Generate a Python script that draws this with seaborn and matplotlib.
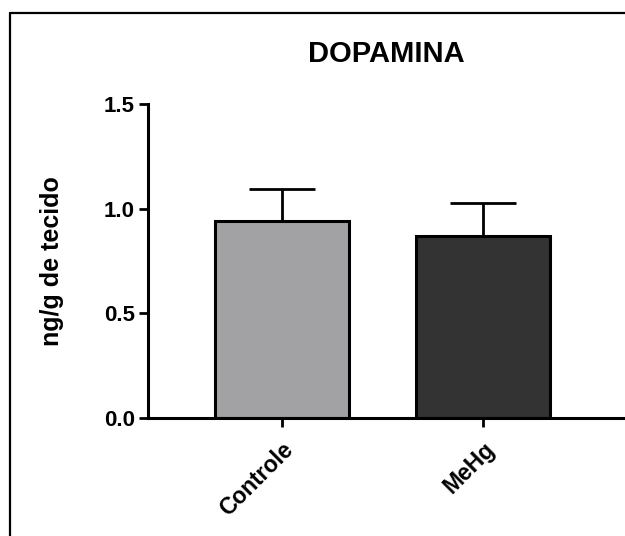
import matplotlib
matplotlib.use("Agg")
import matplotlib.pyplot as plt
import seaborn as sns
import pandas as pd
from matplotlib.lines import Line2D

groups = ["Controle", "MeHg"]
means = [0.943, 0.871]
sems = [0.150, 0.156]
colors = ["#a2a1a6", "#333333"]
yticks = [0.0, 0.5, 1.0, 1.5]
yticklabels = ["0.0", "0.5", "1.0", "1.5"]

sns.set_style("ticks")
plt.rcParams["font.family"] = ["Liberation Sans", "DejaVu Sans"]
plt.rcParams["font.weight"] = "bold"
plt.rcParams["text.color"] = "black"
plt.rcParams["axes.labelcolor"] = "black"

df = pd.DataFrame({"grupo": groups, "valor": means})

W, H = 625, 536
fig = plt.figure(figsize=(W / 100, H / 100), dpi=100)
ax = fig.add_axes([148 / W, (H - 418) / H, (W - 148) / W, (418 - 104) / H])

sns.barplot(data=df, x="grupo", y="valor", hue="grupo", palette=colors,
            order=groups, hue_order=groups, errorbar=None, width=0.67,
            edgecolor="black", linewidth=2.2, legend=False, ax=ax, zorder=2)

ax.errorbar(x=list(range(len(groups))), y=means,
            yerr=[[0] * len(groups), sems], fmt="none", ecolor="black",
            elinewidth=2.0, capsize=24, capthick=2.0, zorder=1)

ax.set_ylim(0, 1.5)
ax.set_xlim(-0.667, 1.706)
ax.set_yticks(yticks)
ax.set_yticklabels(yticklabels, fontsize=16, fontweight="bold", color="black")
ax.set_xticks(range(len(groups)))
ax.set_xticklabels(groups, rotation=45, ha="right", rotation_mode="anchor",
                   fontsize=16.5, fontweight="bold", color="black")
ax.set_xlabel("")
ax.set_ylabel("ng/g de tecido", fontsize=18, fontweight="bold", labelpad=29,
              color="black")
ax.set_title("DOPAMINA", fontsize=21, fontweight="bold", pad=30, color="black")

for s in ["top", "right"]:
    ax.spines[s].set_visible(False)
for s in ["left", "bottom"]:
    ax.spines[s].set_linewidth(2.2)
    ax.spines[s].set_color("black")
ax.tick_params(axis="both", width=2.0, length=6.5, color="black", labelcolor="black")
ax.tick_params(axis="y", pad=3)
ax.tick_params(axis="x", pad=8)

# outer frame
fx = 9.5 / W
fy = 1 - 12.5 / H
fig.add_artist(Line2D([fx, fx], [0, fy], transform=fig.transFigure, color="black", lw=1.6))
fig.add_artist(Line2D([fx, 1], [fy, fy], transform=fig.transFigure, color="black", lw=1.6))

fig.savefig("out.png", dpi=100, facecolor="white")
